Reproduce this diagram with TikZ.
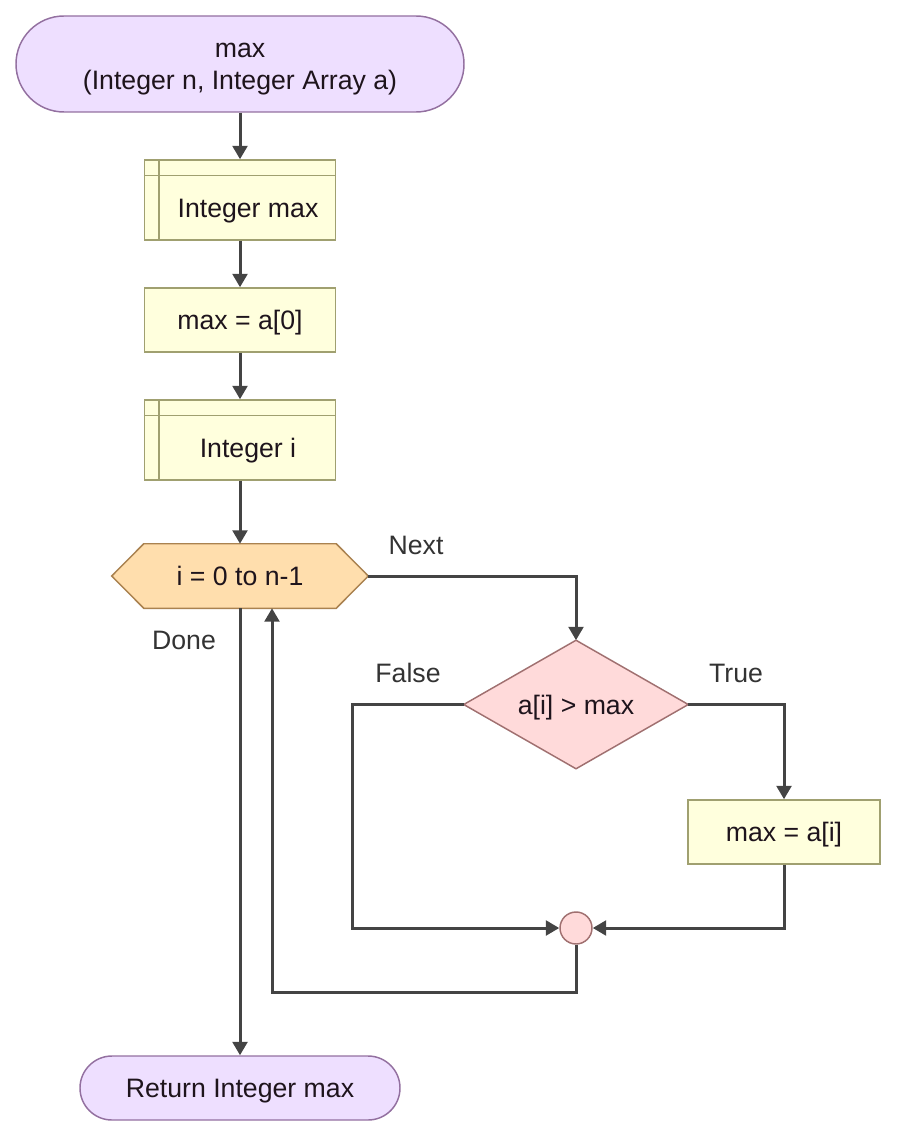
\documentclass[tikz,border=0pt]{standalone}
\usepackage{fontspec}
\setmainfont{Liberation Sans}
\usetikzlibrary{arrows.meta,calc}
\definecolor{termfill}{RGB}{238,223,255}
\definecolor{termdraw}{RGB}{147,112,160}
\definecolor{boxfill}{RGB}{255,255,221}
\definecolor{boxdraw}{RGB}{160,160,112}
\definecolor{hexfill}{RGB}{255,222,173}
\definecolor{hexdraw}{RGB}{170,130,80}
\definecolor{decfill}{RGB}{255,218,218}
\definecolor{decdraw}{RGB}{160,112,112}
\definecolor{wire}{RGB}{68,68,68}
\definecolor{ink}{RGB}{30,20,28}
\definecolor{labelink}{RGB}{51,51,51}
\pgfdeclarelayer{background}
\pgfsetlayers{background,main}
\begin{document}
\begin{tikzpicture}[x=0.75pt,y=-0.75pt,
  every node/.style={font=\fontsize{20}{24}\selectfont, text=ink, inner sep=0pt},
  oneline/.style={text height=14.3pt, text depth=0pt},
  terminal/.style={rectangle, draw=termdraw, fill=termfill, line width=1.1pt, align=center},
  procbox/.style={rectangle, oneline, draw=boxdraw, fill=boxfill, line width=1.1pt, minimum width=143.25pt},
  loopbox/.style={rectangle, oneline, minimum width=192pt, minimum height=48pt},
  hexshape/.style={draw=hexdraw, fill=hexfill, line width=1.1pt},
  decbox/.style={rectangle, oneline, minimum width=168pt, minimum height=96pt},
  decshape/.style={draw=decdraw, fill=decfill, line width=1.1pt},
  joint/.style={circle, draw=decdraw, fill=decfill, line width=1.1pt, minimum size=24pt},
  edgelabel/.style={oneline, text=labelink},
  flow/.style={draw=wire, line width=2.25pt, -{Triangle[length=10pt,width=11pt]}},
  inner rule/.style={draw=boxdraw, line width=1.1pt}
]
\useasboundingbox (0,0) rectangle (897,1137);

% start and end terminals
\node[terminal, text depth=0pt, minimum width=336pt, minimum height=72pt, rounded corners=36pt] (start) at (240,64) {\vphantom{I}max\\(Integer n, Integer Array a)};
\node[terminal, oneline, minimum width=240pt, minimum height=48pt, rounded corners=24pt] (stop) at (240,1088) {Return Integer max};

% declarations and assignments
\node[procbox, minimum height=60pt] (decmax) at (240,200) {};
\draw[inner rule] ($(decmax.north west)+(15,0)$) -- ($(decmax.south west)+(15,0)$);
\draw[inner rule] ($(decmax.north west)+(0,16)$) -- ($(decmax.north east)+(0,16)$);
\node[oneline] (decmaxtext) at ($(decmax.center)+(8,8)$) {Integer max};

\node[procbox, minimum height=48pt] (init) at (240,320) {max = a[0]};

\node[procbox, minimum height=60pt] (deci) at (240,440) {};
\draw[inner rule] ($(deci.north west)+(15,0)$) -- ($(deci.south west)+(15,0)$);
\draw[inner rule] ($(deci.north west)+(0,16)$) -- ($(deci.north east)+(0,16)$);
\node[oneline] (decitext) at ($(deci.center)+(8,8)$) {Integer i};

% for loop hexagon
\node[loopbox] (loop) at (240,576) {i = 0 to n-1};
\begin{pgfonlayer}{background}
\path[hexshape] (loop.west) -- ($(loop.north west)+(32,0)$) -- ($(loop.north east)+(-32,0)$)
  -- (loop.east) -- ($(loop.south east)+(-32,0)$) -- ($(loop.south west)+(32,0)$) -- cycle;
\end{pgfonlayer}

% loop body
\node[decbox] (test) at (576,704.5) {a[i] > max};
\begin{pgfonlayer}{background}
\path[decshape] (test.north) -- (test.east) -- (test.south) -- (test.west) -- cycle;
\end{pgfonlayer}
\node[procbox, minimum width=144pt, minimum height=48pt] (update) at (784,832) {max = a[i]};
\node[joint] (merge) at (576,928) {};

\coordinate (falsecorner) at (352,928);
\coordinate (backcorner) at (272,992);

% connectors
\draw[flow] (start) -- (decmax);
\draw[flow] (decmax) -- (init);
\draw[flow] (init) -- (deci);
\draw[flow] (deci) -- (loop);
\draw[flow] (loop.east) -| (test.north);
\draw[flow] (test.west) -| (falsecorner) -- (merge.west);
\draw[flow] (test.east) -| (update.north);
\draw[flow] (update.south) |- (merge.east);
\draw[flow] (merge.south) |- (backcorner) -- (backcorner |- loop.south);
\draw[flow] (loop.south) -- (stop.north);

% branch labels
\node[edgelabel] (lnext) at (416,545) {Next};
\node[edgelabel] (ldone) at (184,640) {Done};
\node[edgelabel] (lfalse) at (408,673) {False};
\node[edgelabel] (ltrue) at (736,673) {True};
\end{tikzpicture}
\end{document}
